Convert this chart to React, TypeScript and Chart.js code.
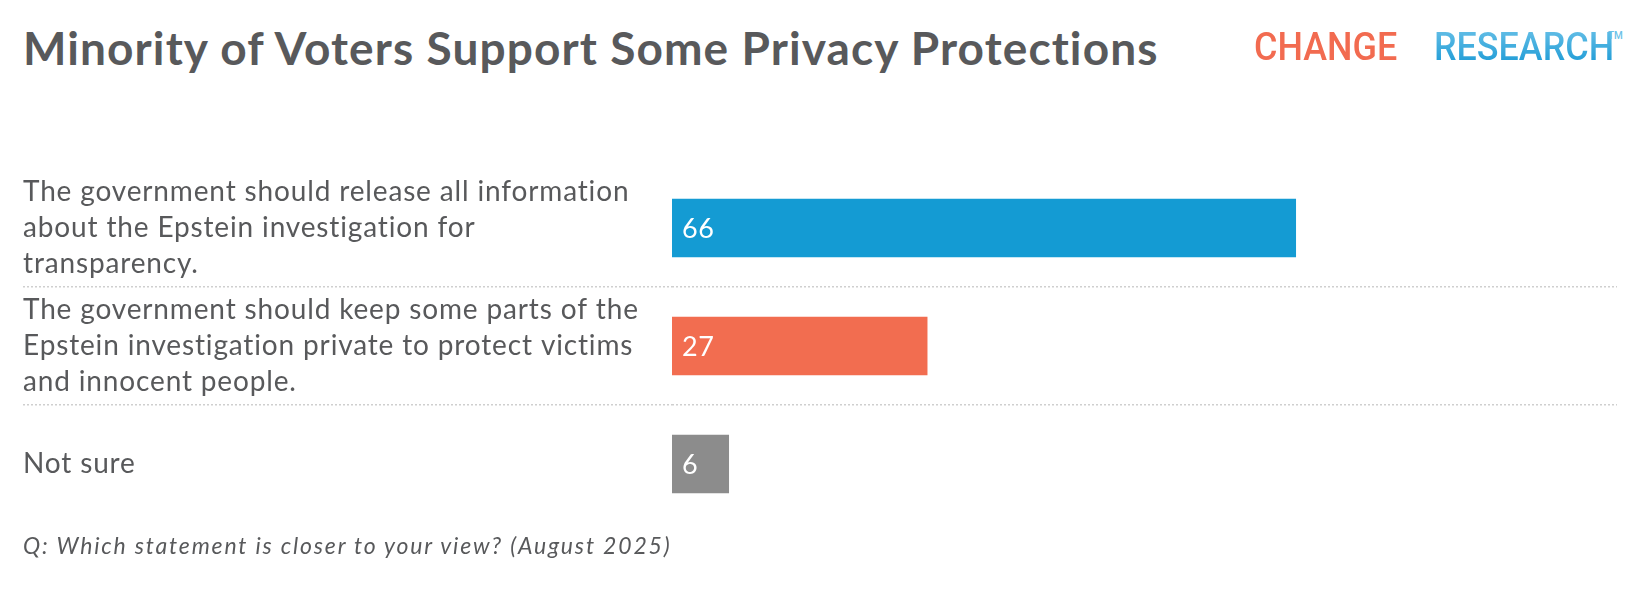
import React, { useEffect, useRef } from "react";
import { Chart, registerables } from "chart.js";

Chart.register(...registerables);

const title = "Minority of Voters Support Some Privacy Protections";
const footnote = "Q: Which statement is closer to your view? (August 2025)";
const categories: string[][] = [
  ["The government should release all information", "about the Epstein investigation for", "transparency."],
  ["The government should keep some parts of the", "Epstein investigation private to protect victims", "and innocent people."],
  ["Not sure"],
];
const values = [66, 27, 6];
const barColors = ["#149BD3", "#F26D50", "#8C8C8C"];

const FONT = "Lato, 'Open Sans', sans-serif";
const TEXT = "#58595B";

const spacing = {
  id: "spacing",
  beforeDraw(chart: any) {
    chart.ctx.letterSpacing = "0.85px";
  },
};

const valueLabels = {
  id: "valueLabels",
  afterDatasetsDraw(chart: any) {
    const ctx = chart.ctx;
    const meta = chart.getDatasetMeta(0);
    ctx.save();
    ctx.letterSpacing = "0.5px";
    ctx.fillStyle = "#ffffff";
    ctx.font = `27px ${FONT}`;
    ctx.textAlign = "left";
    ctx.textBaseline = "middle";
    meta.data.forEach((el: any, i: number) => {
      ctx.fillText(String(values[i]), el.base + 10, el.y + 1);
    });
    ctx.restore();
  },
};

export default function App() {
  const ref = useRef<HTMLCanvasElement>(null);
  useEffect(() => {
    if (!ref.current) return;
    const sepColor = (c: any) => (c.index === 1 || c.index === 2 ? "#cfcfcf" : "rgba(0,0,0,0)");
    const chart = new Chart(ref.current, {
      type: "bar",
      data: {
        labels: categories,
        datasets: [
          {
            data: values,
            backgroundColor: barColors,
            barThickness: 58,
            borderWidth: 0,
          },
        ],
      },
      options: {
        indexAxis: "y",
        animation: false,
        responsive: true,
        maintainAspectRatio: false,
        layout: { padding: { left: 15, right: 15, top: 161, bottom: 65 } },
        plugins: {
          legend: { display: false },
          tooltip: { enabled: false },
          title: { display: false },
        },
        scales: {
          x: { display: false, min: 0, max: 100 },
          y: {
            afterFit: (scale: any) => {
              scale.width = 649;
            },
            grid: {
              offset: true,
              color: sepColor,
              lineWidth: 1.5,
              drawTicks: true,
              tickLength: 649,
              tickColor: sepColor,
              tickWidth: 1.5,
              tickBorderDash: [2, 2],
            },
            border: { display: false, dash: [2, 2] },
            ticks: {
              crossAlign: "far",
              padding: 0,
              color: TEXT,
              font: { family: FONT, size: 28, lineHeight: 1.3 },
            },
          },
        },
      },
      plugins: [spacing, valueLabels],
    });
    return () => chart.destroy();
  }, []);

  const logoWord = {
    position: "absolute" as const,
    top: 17,
    fontFamily: "Roboto, sans-serif",
    fontSize: 39,
    fontWeight: 500,
    whiteSpace: "nowrap" as const,
    lineHeight: "44px",
    transform: "scaleX(0.92)",
    transformOrigin: "left center",
  };

  return (
    <div style={{ position: "relative", width: 1624, height: 580, fontFamily: FONT }}>
      <div
        style={{
          position: "absolute",
          left: 15,
          top: 14,
          fontSize: 46,
          fontWeight: 700,
          color: TEXT,
          whiteSpace: "nowrap",
          lineHeight: "52px",
          letterSpacing: 1.1,
        }}
      >
        {title}
      </div>
      <div style={{ ...logoWord, left: 1246, color: "#F26B50" }}>CHANGE</div>
      <div
        style={{
          ...logoWord,
          left: 1426,
          color: "transparent",
          backgroundImage: "linear-gradient(#6CC2E8, #1597D4)",
          WebkitBackgroundClip: "text",
          backgroundClip: "text",
        }}
      >
        RESEARCH
      </div>
      <div
        style={{
          position: "absolute",
          left: 1600,
          top: 22,
          fontFamily: "Roboto, sans-serif",
          fontSize: 10,
          fontWeight: 500,
          color: "#6CC2E8",
          lineHeight: "12px",
        }}
      >
        TM
      </div>
      <canvas ref={ref} style={{ position: "absolute", left: 0, top: 0, width: 1624, height: 580 }} />
      <div
        style={{
          position: "absolute",
          left: 15,
          top: 523,
          fontSize: 23,
          fontStyle: "italic",
          color: TEXT,
          whiteSpace: "nowrap",
          lineHeight: "28px",
          letterSpacing: 1.82,
        }}
      >
        {footnote}
      </div>
    </div>
  );
}
